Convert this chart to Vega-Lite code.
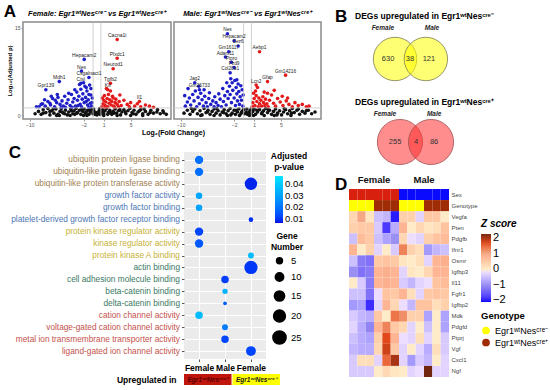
{
"$schema": "https://vega.github.io/schema/vega-lite/v6.json",
"padding": {"left": 3, "top": 3, "right": 0, "bottom": 0},
"config": {"font": "Liberation Sans", "view": {"stroke": null}, "axis": {"labelFont": "Liberation Sans", "titleFont": "Liberation Sans"}, "legend": {"labelFont": "Liberation Sans", "titleFont": "Liberation Sans"}, "title": {"font": "Liberation Sans"}},
"datasets": {
"volF": [
{"x":-9.2,"y":0.3},{"x":-8.7,"y":0.7},{"x":-8.3,"y":0.2},{"x":-8.0,"y":1.0},{"x":-7.6,"y":0.5},{"x":-7.3,"y":1.2},{"x":-7.0,"y":0.1},{"x":-6.7,"y":0.8},{"x":-6.4,"y":0.4},{"x":-6.1,"y":1.1},{"x":-5.8,"y":0.2},{"x":-5.5,"y":0.7},{"x":-5.3,"y":1.2},{"x":-5.0,"y":0.4},{"x":-4.7,"y":0.9},{"x":-4.4,"y":0.1},{"x":-4.2,"y":0.6},{"x":-3.9,"y":1.1},{"x":-3.6,"y":0.3},{"x":-3.4,"y":0.8},{"x":-3.1,"y":1.2},{"x":-2.9,"y":0.5},{"x":-2.6,"y":0.9},{"x":-2.4,"y":0.2},{"x":-2.1,"y":0.7},{"x":-1.9,"y":1.1},{"x":-1.7,"y":0.4},{"x":-1.4,"y":0.9},{"x":-1.2,"y":0.2},{"x":-1.0,"y":0.6},{"x":-0.8,"y":1.0},{"x":-0.6,"y":0.3},{"x":-0.45,"y":0.7},{"x":-0.3,"y":0.2},{"x":-0.15,"y":0.5},{"x":0.0,"y":0.1},{"x":0.15,"y":0.4},{"x":0.3,"y":0.8},{"x":0.45,"y":0.2},{"x":0.6,"y":0.6},{"x":0.8,"y":1.0},{"x":1.0,"y":0.3},{"x":1.2,"y":0.8},{"x":1.4,"y":1.2},{"x":1.7,"y":0.5},{"x":1.9,"y":0.9},{"x":2.2,"y":0.2},{"x":2.4,"y":0.7},{"x":2.7,"y":1.1},{"x":2.9,"y":0.4},{"x":3.2,"y":0.8},{"x":3.5,"y":0.1},{"x":3.7,"y":0.6},{"x":4.0,"y":1.0},{"x":4.3,"y":0.3},{"x":4.6,"y":0.8},{"x":4.9,"y":1.2},{"x":5.2,"y":0.5},{"x":5.5,"y":0.9},{"x":5.8,"y":0.2},{"x":6.1,"y":0.6},{"x":6.5,"y":1.0},{"x":6.8,"y":0.3},{"x":7.2,"y":0.7},{"x":7.6,"y":0.2},{"x":8.0,"y":0.9},{"x":8.4,"y":0.4},{"x":8.9,"y":0.6},{"x":9.4,"y":0.3},{"x":9.8,"y":0.8},{"x":10.3,"y":0.2},{"x":-2.0,"y":0.0},{"x":-4.0,"y":0.0},{"x":-6.0,"y":0.0},{"x":1.0,"y":0.0},{"x":3.0,"y":0.0},{"x":5.0,"y":0.0},{"x":-3.0,"y":0.4},{"x":2.0,"y":0.5},{"x":-5.6,"y":0.0},{"x":-1.5,"y":0.0},{"x":6.8,"y":0.0},{"x":-0.5,"y":1.1},{"x":0.4,"y":1.2},{"x":-8.0,"y":0.4},{"x":-7.0,"y":0.7},{"x":-6.5,"y":1.1},{"x":-5.2,"y":0.6},{"x":-4.8,"y":0.3},{"x":-3.8,"y":0.8},{"x":-3.3,"y":0.2},{"x":-2.3,"y":1.0},{"x":-1.6,"y":0.6},{"x":-1.1,"y":0.9},{"x":0.9,"y":0.5},{"x":1.6,"y":0.2},{"x":2.5,"y":0.4},{"x":3.4,"y":1.0},{"x":4.2,"y":0.6},{"x":5.4,"y":0.3},{"x":6.3,"y":0.8},{"x":7.0,"y":1.1},{"x":7.9,"y":0.5},{"x":9.0,"y":1.0},{"x":9.9,"y":0.5},
{"x":-8.6,"y":1.5},{"x":-8.1,"y":2.0},{"x":-7.7,"y":1.6},{"x":-7.3,"y":2.4},{"x":-6.9,"y":1.8},{"x":-6.6,"y":2.9},{"x":-6.3,"y":1.5},{"x":-6.0,"y":2.2},{"x":-5.8,"y":3.1},{"x":-5.5,"y":1.9},{"x":-5.2,"y":2.5},{"x":-5.0,"y":1.6},{"x":-4.8,"y":3.3},{"x":-4.5,"y":2.1},{"x":-4.3,"y":2.7},{"x":-4.0,"y":1.7},{"x":-3.8,"y":3.6},{"x":-3.6,"y":2.3},{"x":-3.4,"y":2.9},{"x":-3.2,"y":1.6},{"x":-3.0,"y":4.0},{"x":-2.9,"y":2.6},{"x":-2.7,"y":3.3},{"x":-2.5,"y":1.9},{"x":-2.4,"y":4.5},{"x":-2.2,"y":2.8},{"x":-2.1,"y":3.7},{"x":-1.9,"y":2.2},{"x":-1.8,"y":5.0},{"x":-1.7,"y":3.1},{"x":-1.5,"y":4.2},{"x":-1.4,"y":1.8},{"x":-1.3,"y":2.7},{"x":-1.2,"y":3.6},{"x":-1.0,"y":2.1},{"x":-0.9,"y":4.6},{"x":-0.8,"y":1.6},{"x":-0.7,"y":3.0},{"x":-2.6,"y":5.3},{"x":-2.0,"y":5.6},{"x":-1.6,"y":4.8},{"x":-3.3,"y":4.4},{"x":-4.2,"y":3.8},{"x":-6.8,"y":3.3},{"x":-7.8,"y":2.7},{"x":-5.9,"y":3.6},{"x":-1.1,"y":5.2},{"x":-2.3,"y":1.5},{"x":-3.7,"y":1.4},{"x":-4.7,"y":1.4},{"x":-1.2,"y":1.4},{"x":-0.75,"y":2.2},{"x":-0.9,"y":3.5},{"x":-1.6,"y":2.4},{"x":-2.8,"y":1.7},{"x":-5.3,"y":1.4},{"x":-8.3,"y":1.9},{"x":-9.0,"y":1.5},{"x":-7.0,"y":2.1},{"x":-6.2,"y":2.6},
{"x":0.7,"y":1.5},{"x":0.9,"y":2.0},{"x":1.0,"y":2.6},{"x":1.2,"y":1.7},{"x":1.3,"y":2.3},{"x":1.5,"y":2.9},{"x":1.6,"y":1.5},{"x":1.8,"y":2.1},{"x":1.9,"y":2.7},{"x":2.1,"y":1.8},{"x":2.2,"y":2.4},{"x":2.4,"y":3.0},{"x":2.5,"y":1.6},{"x":2.7,"y":2.2},{"x":2.8,"y":2.8},{"x":3.0,"y":1.9},{"x":1.1,"y":3.4},{"x":1.7,"y":3.6},{"x":2.3,"y":3.3},{"x":3.3,"y":2.4},{"x":3.6,"y":1.7},{"x":4.0,"y":2.6},{"x":4.5,"y":1.9},{"x":5.0,"y":2.2},{"x":5.6,"y":1.6},{"x":6.0,"y":2.0},{"x":6.5,"y":1.5},{"x":7.2,"y":1.8},{"x":3.4,"y":3.5},{"x":2.0,"y":4.2},{"x":1.4,"y":4.6},{"x":0.8,"y":3.0},{"x":1.2,"y":1.4},{"x":2.6,"y":1.4},{"x":3.2,"y":1.5},{"x":4.8,"y":1.5},{"x":7.8,"y":1.6},{"x":8.4,"y":1.4},
{"x":3.0,"y":13.0,"n":"Cacna1i"},{"x":-1.9,"y":9.6,"n":"Hepacam2"},{"x":3.0,"y":9.8,"n":"Plxdc1"},{"x":2.4,"y":8.0,"n":"Neurod1"},{"x":-5.6,"y":5.8,"n":"Mdh1"},{"x":-2.3,"y":7.6,"n":"Nes"},{"x":-1.2,"y":6.5,"n":"Csgalnact1"},{"x":-7.6,"y":4.4,"n":"Gpr139"},{"x":2.0,"y":5.5,"n":"Tgfb2"},{"x":1.6,"y":4.4,"n":"Kit"},{"x":-2.4,"y":5.5,"n":"Ctsl"},{"x":6.3,"y":2.4,"n":"Il1"}
],
"volM": [
{"x":-9.5,"y":0.4},{"x":-9.0,"y":0.9},{"x":-8.6,"y":0.2},{"x":-8.2,"y":0.7},{"x":-7.9,"y":1.1},{"x":-7.5,"y":0.3},{"x":-7.1,"y":0.8},{"x":-6.8,"y":0.1},{"x":-6.5,"y":1.2},{"x":-6.2,"y":0.5},{"x":-5.9,"y":0.9},{"x":-5.6,"y":0.2},{"x":-5.3,"y":0.7},{"x":-5.0,"y":1.1},{"x":-4.7,"y":0.4},{"x":-4.4,"y":0.8},{"x":-4.1,"y":0.1},{"x":-3.8,"y":0.6},{"x":-3.5,"y":1.0},{"x":-3.2,"y":0.3},{"x":-2.9,"y":0.8},{"x":-2.6,"y":1.2},{"x":-2.3,"y":0.4},{"x":-2.0,"y":0.9},{"x":-1.8,"y":0.2},{"x":-1.5,"y":0.6},{"x":-1.3,"y":1.1},{"x":-1.0,"y":0.3},{"x":-0.8,"y":0.7},{"x":-0.6,"y":1.0},{"x":-0.4,"y":0.3},{"x":-0.2,"y":0.6},{"x":0.0,"y":0.2},{"x":0.2,"y":0.5},{"x":0.4,"y":0.9},{"x":0.55,"y":0.3},{"x":0.8,"y":0.7},{"x":1.0,"y":1.1},{"x":1.2,"y":0.2},{"x":1.5,"y":0.6},{"x":1.8,"y":1.0},{"x":2.1,"y":0.3},{"x":2.4,"y":0.8},{"x":2.7,"y":1.2},{"x":3.0,"y":0.5},{"x":3.3,"y":0.9},{"x":3.6,"y":0.2},{"x":3.9,"y":0.7},{"x":4.2,"y":1.1},{"x":4.5,"y":0.4},{"x":4.8,"y":0.8},{"x":5.1,"y":0.1},{"x":5.4,"y":0.6},{"x":5.7,"y":1.0},{"x":6.0,"y":0.3},{"x":6.3,"y":0.8},{"x":6.7,"y":1.2},{"x":7.0,"y":0.5},{"x":7.4,"y":0.9},{"x":7.8,"y":0.2},{"x":8.2,"y":0.7},{"x":8.6,"y":0.4},{"x":9.1,"y":0.9},{"x":9.6,"y":0.3},{"x":10.1,"y":0.6},{"x":-7.0,"y":0.0},{"x":-5.0,"y":0.0},{"x":-3.0,"y":0.0},{"x":-1.2,"y":0.0},{"x":0.9,"y":0.0},{"x":2.5,"y":0.0},{"x":4.0,"y":0.0},{"x":6.5,"y":0.0},{"x":-8.4,"y":1.2},{"x":-6.0,"y":0.6},{"x":-4.6,"y":1.2},{"x":-3.6,"y":0.5},{"x":-2.5,"y":0.1},{"x":-1.7,"y":0.9},{"x":-0.9,"y":0.5},{"x":0.6,"y":1.2},{"x":1.4,"y":0.9},{"x":2.2,"y":0.5},{"x":3.1,"y":1.0},{"x":4.4,"y":0.1},{"x":5.5,"y":1.2},{"x":6.6,"y":0.4},{"x":7.6,"y":1.1},{"x":8.8,"y":0.8},{"x":-0.1,"y":1.1},{"x":0.3,"y":0.0},
{"x":-9.3,"y":1.6},{"x":-9.0,"y":2.3},{"x":-8.7,"y":3.0},{"x":-8.5,"y":1.8},{"x":-8.2,"y":3.6},{"x":-8.0,"y":2.5},{"x":-7.8,"y":4.2},{"x":-7.6,"y":1.5},{"x":-7.4,"y":3.1},{"x":-7.2,"y":2.0},{"x":-7.0,"y":3.8},{"x":-6.8,"y":2.7},{"x":-6.6,"y":1.6},{"x":-6.4,"y":3.3},{"x":-6.2,"y":2.2},{"x":-6.0,"y":1.5},{"x":-5.8,"y":2.9},{"x":-5.5,"y":1.9},{"x":-5.2,"y":2.5},{"x":-5.0,"y":1.5},{"x":-4.7,"y":2.2},{"x":-4.4,"y":1.7},{"x":-4.1,"y":2.8},{"x":-3.9,"y":1.5},{"x":-3.6,"y":2.4},{"x":-3.4,"y":3.4},{"x":-3.2,"y":1.8},{"x":-3.0,"y":4.1},{"x":-2.9,"y":2.9},{"x":-2.7,"y":5.0},{"x":-2.6,"y":3.6},{"x":-2.4,"y":2.2},{"x":-2.3,"y":5.6},{"x":-2.2,"y":4.3},{"x":-2.0,"y":3.0},{"x":-1.9,"y":6.0},{"x":-1.8,"y":1.7},{"x":-1.7,"y":4.8},{"x":-1.6,"y":3.7},{"x":-1.5,"y":2.5},{"x":-1.4,"y":5.4},{"x":-1.3,"y":4.1},{"x":-1.2,"y":1.9},{"x":-1.1,"y":3.2},{"x":-1.0,"y":5.1},{"x":-0.9,"y":2.6},{"x":-0.8,"y":4.4},{"x":-0.7,"y":1.6},{"x":-0.65,"y":3.5},{"x":-2.5,"y":6.3},{"x":-1.6,"y":6.1},{"x":-3.1,"y":5.6},{"x":-3.7,"y":4.6},{"x":-4.3,"y":3.7},{"x":-8.9,"y":4.6},{"x":-7.3,"y":5.0},{"x":-6.5,"y":4.4},{"x":-9.4,"y":3.4},{"x":-5.7,"y":3.9},{"x":-4.9,"y":3.2},
{"x":0.7,"y":1.5},{"x":0.8,"y":2.2},{"x":1.0,"y":2.9},{"x":1.1,"y":1.7},{"x":1.3,"y":3.4},{"x":1.4,"y":2.4},{"x":1.6,"y":1.5},{"x":1.7,"y":3.0},{"x":1.8,"y":2.0},{"x":2.0,"y":2.6},{"x":2.1,"y":1.6},{"x":2.3,"y":3.2},{"x":2.4,"y":2.2},{"x":2.6,"y":1.7},{"x":2.7,"y":2.8},{"x":2.9,"y":2.0},{"x":3.1,"y":1.5},{"x":3.3,"y":2.6},{"x":3.6,"y":3.5},{"x":3.9,"y":2.1},{"x":4.2,"y":1.6},{"x":4.5,"y":2.9},{"x":4.9,"y":2.3},{"x":5.3,"y":1.7},{"x":5.8,"y":2.5},{"x":6.2,"y":1.9},{"x":6.7,"y":1.5},{"x":7.1,"y":2.2},{"x":7.6,"y":1.7},{"x":8.2,"y":1.9},{"x":8.8,"y":1.5},{"x":1.2,"y":4.2},{"x":2.5,"y":4.0},{"x":1.5,"y":4.8},{"x":0.9,"y":3.8},{"x":3.0,"y":3.8},{"x":4.0,"y":4.3},{"x":5.2,"y":3.3},{"x":6.0,"y":3.0},{"x":9.2,"y":1.6},
{"x":-3.0,"y":14.0,"n":"Nes"},{"x":-2.0,"y":12.8,"n":"Hepacam2"},{"x":-1.4,"y":11.9,"n":"Sez6"},{"x":-2.8,"y":10.9,"n":"Gm16117"},{"x":-3.3,"y":10.0,"n":"Adam11"},{"x":-2.4,"y":9.1,"n":"Ptpro"},{"x":-2.0,"y":8.2,"n":"Fzd9"},{"x":-2.6,"y":7.3,"n":"Col20a1"},{"x":1.8,"y":10.9,"n":"Aebp1"},{"x":5.7,"y":6.9,"n":"Gm14216"},{"x":3.0,"y":5.8,"n":"Gfap"},{"x":1.3,"y":5.2,"n":"Lcn2"},{"x":-7.9,"y":5.6,"n":"Jag2"},{"x":-7.2,"y":4.4,"n":"Gm26733"}
],
"go": [
{"t":"ubiquitin protein ligase binding","g":"F+","p":0.019,"n":10},
{"t":"ubiquitin-like protein ligase binding","g":"F+","p":0.019,"n":10},
{"t":"ubiquitin-like protein transferase activity","g":"F-","p":0.008,"n":22},
{"t":"growth factor activity","g":"F+","p":0.031,"n":6},
{"t":"growth factor binding","g":"F+","p":0.03,"n":6},
{"t":"platelet-derived growth factor receptor binding","g":"F-","p":0.009,"n":3},
{"t":"protein kinase regulator activity","g":"F+","p":0.012,"n":10},
{"t":"kinase regulator activity","g":"F+","p":0.015,"n":10},
{"t":"protein kinase A binding","g":"F-","p":0.036,"n":5},
{"t":"actin binding","g":"F-","p":0.01,"n":25},
{"t":"cell adhesion molecule binding","g":"M+","p":0.011,"n":8},
{"t":"beta-catenin binding","g":"M+","p":0.034,"n":4},
{"t":"delta-catenin binding","g":"M+","p":0.016,"n":2},
{"t":"cation channel activity","g":"F+","p":0.036,"n":8},
{"t":"voltage-gated cation channel activity","g":"M+","p":0.022,"n":5},
{"t":"metal ion transmembrane transporter activity","g":"M+","p":0.012,"n":8},
{"t":"ligand-gated ion channel activity","g":"F-","p":0.012,"n":14}
],
"strip": [
{"gt":"Cre+","row":"Upregulated in","lab":"Egr1ʷᵗNesᶜʳᵉ⁺"},
{"gt":"Cre-","row":"Upregulated in","lab":"Egr1ʷᵗNesᶜʳᵉ⁻"}
],
"vennUpSets": [{"set":"Female","vx":-0.49,"vy":0},{"set":"Male","vx":0.52,"vy":0}],
"vennUpLabels": [{"set":"Female","vx":-0.89,"vy":1},{"set":"Male","vx":0.72,"vy":1}],
"vennUpCounts": [{"region":"Female only","vx":-0.72,"vy":0,"count":630},{"region":"Both","vx":0.0,"vy":0,"count":38},{"region":"Male only","vx":0.62,"vy":0,"count":121}],
"vennDownSets": [{"set":"Female","vx":-0.33,"vy":0},{"set":"Male","vx":0.69,"vy":0}],
"vennDownLabels": [{"set":"Female","vx":-0.82,"vy":1},{"set":"Male","vx":0.79,"vy":1}],
"vennDownCounts": [{"region":"Female only","vx":-0.49,"vy":0,"count":255},{"region":"Both","vx":0.2,"vy":0,"count":4},{"region":"Male only","vx":0.79,"vy":0,"count":86}],
"annot": [
{"g":"Sex","c":"F1","a":"Female"},{"g":"Sex","c":"F2","a":"Female"},{"g":"Sex","c":"F3","a":"Female"},{"g":"Sex","c":"F4","a":"Female"},{"g":"Sex","c":"F5","a":"Female"},{"g":"Sex","c":"F6","a":"Female"},
{"g":"Sex","c":"M1","a":"Male"},{"g":"Sex","c":"M2","a":"Male"},{"g":"Sex","c":"M3","a":"Male"},{"g":"Sex","c":"M4","a":"Male"},{"g":"Sex","c":"M5","a":"Male"},{"g":"Sex","c":"M6","a":"Male"},
{"g":"Genotype","c":"F1","a":"Egr1ʷᵗNesᶜʳᵉ⁻"},{"g":"Genotype","c":"F2","a":"Egr1ʷᵗNesᶜʳᵉ⁻"},{"g":"Genotype","c":"F3","a":"Egr1ʷᵗNesᶜʳᵉ⁻"},{"g":"Genotype","c":"F4","a":"Egr1ʷᵗNesᶜʳᵉ⁺"},{"g":"Genotype","c":"F5","a":"Egr1ʷᵗNesᶜʳᵉ⁺"},{"g":"Genotype","c":"F6","a":"Egr1ʷᵗNesᶜʳᵉ⁺"},
{"g":"Genotype","c":"M1","a":"Egr1ʷᵗNesᶜʳᵉ⁻"},{"g":"Genotype","c":"M2","a":"Egr1ʷᵗNesᶜʳᵉ⁻"},{"g":"Genotype","c":"M3","a":"Egr1ʷᵗNesᶜʳᵉ⁻"},{"g":"Genotype","c":"M4","a":"Egr1ʷᵗNesᶜʳᵉ⁺"},{"g":"Genotype","c":"M5","a":"Egr1ʷᵗNesᶜʳᵉ⁺"},{"g":"Genotype","c":"M6","a":"Egr1ʷᵗNesᶜʳᵉ⁺"}
],
"heat": [
{"g":"Vegfa","c":"F1","z":0.3},{"g":"Vegfa","c":"F2","z":1.0},{"g":"Vegfa","c":"F3","z":0.1},{"g":"Vegfa","c":"F4","z":-0.5},{"g":"Vegfa","c":"F5","z":-0.6},{"g":"Vegfa","c":"F6","z":-2.0},{"g":"Vegfa","c":"M1","z":0.4},{"g":"Vegfa","c":"M2","z":0.4},{"g":"Vegfa","c":"M3","z":-0.3},{"g":"Vegfa","c":"M4","z":0.5},{"g":"Vegfa","c":"M5","z":0.5},{"g":"Vegfa","c":"M6","z":0.0},
{"g":"Pten","c":"F1","z":0.4},{"g":"Pten","c":"F2","z":0.5},{"g":"Pten","c":"F3","z":0.5},{"g":"Pten","c":"F4","z":-0.4},{"g":"Pten","c":"F5","z":-1.8},{"g":"Pten","c":"F6","z":-0.7},{"g":"Pten","c":"M1","z":0.8},{"g":"Pten","c":"M2","z":0.0},{"g":"Pten","c":"M3","z":0.3},{"g":"Pten","c":"M4","z":0.1},{"g":"Pten","c":"M5","z":0.2},{"g":"Pten","c":"M6","z":0.6},
{"g":"Pdgfb","c":"F1","z":-0.5},{"g":"Pdgfb","c":"F2","z":0.7},{"g":"Pdgfb","c":"F3","z":0.5},{"g":"Pdgfb","c":"F4","z":-0.5},{"g":"Pdgfb","c":"F5","z":-0.8},{"g":"Pdgfb","c":"F6","z":-1.0},{"g":"Pdgfb","c":"M1","z":0.3},{"g":"Pdgfb","c":"M2","z":-0.2},{"g":"Pdgfb","c":"M3","z":-0.3},{"g":"Pdgfb","c":"M4","z":0.4},{"g":"Pdgfb","c":"M5","z":0.6},{"g":"Pdgfb","c":"M6","z":0.7},
{"g":"Ifnr1","c":"F1","z":0.8},{"g":"Ifnr1","c":"F2","z":0.0},{"g":"Ifnr1","c":"F3","z":0.4},{"g":"Ifnr1","c":"F4","z":-0.3},{"g":"Ifnr1","c":"F5","z":0.0},{"g":"Ifnr1","c":"F6","z":-0.4},{"g":"Ifnr1","c":"M1","z":1.3},{"g":"Ifnr1","c":"M2","z":0.4},{"g":"Ifnr1","c":"M3","z":0.2},{"g":"Ifnr1","c":"M4","z":-0.9},{"g":"Ifnr1","c":"M5","z":-0.6},{"g":"Ifnr1","c":"M6","z":-0.5},
{"g":"Osmr","c":"F1","z":-0.5},{"g":"Osmr","c":"F2","z":-1.2},{"g":"Osmr","c":"F3","z":-1.3},{"g":"Osmr","c":"F4","z":0.5},{"g":"Osmr","c":"F5","z":0.6},{"g":"Osmr","c":"F6","z":0.5},{"g":"Osmr","c":"M1","z":0.1},{"g":"Osmr","c":"M2","z":0.0},{"g":"Osmr","c":"M3","z":0.2},{"g":"Osmr","c":"M4","z":-0.3},{"g":"Osmr","c":"M5","z":0.8},{"g":"Osmr","c":"M6","z":0.9},
{"g":"Igfbp3","c":"F1","z":-1.0},{"g":"Igfbp3","c":"F2","z":-1.3},{"g":"Igfbp3","c":"F3","z":-1.2},{"g":"Igfbp3","c":"F4","z":0.8},{"g":"Igfbp3","c":"F5","z":0.9},{"g":"Igfbp3","c":"F6","z":0.8},{"g":"Igfbp3","c":"M1","z":-0.3},{"g":"Igfbp3","c":"M2","z":0.1},{"g":"Igfbp3","c":"M3","z":0.0},{"g":"Igfbp3","c":"M4","z":0.3},{"g":"Igfbp3","c":"M5","z":0.8},{"g":"Igfbp3","c":"M6","z":0.8},
{"g":"Il11","c":"F1","z":0.0},{"g":"Il11","c":"F2","z":-0.4},{"g":"Il11","c":"F3","z":-1.2},{"g":"Il11","c":"F4","z":0.8},{"g":"Il11","c":"F5","z":0.9},{"g":"Il11","c":"F6","z":0.8},{"g":"Il11","c":"M1","z":-0.4},{"g":"Il11","c":"M2","z":-0.6},{"g":"Il11","c":"M3","z":-0.3},{"g":"Il11","c":"M4","z":-0.2},{"g":"Il11","c":"M5","z":0.6},{"g":"Il11","c":"M6","z":0.7},
{"g":"Fgfr1","c":"F1","z":-0.5},{"g":"Fgfr1","c":"F2","z":-0.5},{"g":"Fgfr1","c":"F3","z":-1.3},{"g":"Fgfr1","c":"F4","z":-0.2},{"g":"Fgfr1","c":"F5","z":0.6},{"g":"Fgfr1","c":"F6","z":0.5},{"g":"Fgfr1","c":"M1","z":0.8},{"g":"Fgfr1","c":"M2","z":0.2},{"g":"Fgfr1","c":"M3","z":-0.3},{"g":"Fgfr1","c":"M4","z":0.5},{"g":"Fgfr1","c":"M5","z":0.6},{"g":"Fgfr1","c":"M6","z":0.5},
{"g":"Igfbp2","c":"F1","z":-0.9},{"g":"Igfbp2","c":"F2","z":-0.8},{"g":"Igfbp2","c":"F3","z":-1.9},{"g":"Igfbp2","c":"F4","z":-0.3},{"g":"Igfbp2","c":"F5","z":0.8},{"g":"Igfbp2","c":"F6","z":0.3},{"g":"Igfbp2","c":"M1","z":-0.2},{"g":"Igfbp2","c":"M2","z":-0.6},{"g":"Igfbp2","c":"M3","z":0.6},{"g":"Igfbp2","c":"M4","z":0.6},{"g":"Igfbp2","c":"M5","z":0.2},{"g":"Igfbp2","c":"M6","z":0.4},
{"g":"Mdk","c":"F1","z":-0.4},{"g":"Mdk","c":"F2","z":-0.6},{"g":"Mdk","c":"F3","z":-0.7},{"g":"Mdk","c":"F4","z":0.5},{"g":"Mdk","c":"F5","z":0.0},{"g":"Mdk","c":"F6","z":1.4},{"g":"Mdk","c":"M1","z":1.2},{"g":"Mdk","c":"M2","z":0.4},{"g":"Mdk","c":"M3","z":0.4},{"g":"Mdk","c":"M4","z":-0.8},{"g":"Mdk","c":"M5","z":0.0},{"g":"Mdk","c":"M6","z":-0.8},
{"g":"Pdgfd","c":"F1","z":-0.3},{"g":"Pdgfd","c":"F2","z":-0.7},{"g":"Pdgfd","c":"F3","z":-1.1},{"g":"Pdgfd","c":"F4","z":0.8},{"g":"Pdgfd","c":"F5","z":1.3},{"g":"Pdgfd","c":"F6","z":0.5},{"g":"Pdgfd","c":"M1","z":0.3},{"g":"Pdgfd","c":"M2","z":-0.3},{"g":"Pdgfd","c":"M3","z":0.0},{"g":"Pdgfd","c":"M4","z":-0.5},{"g":"Pdgfd","c":"M5","z":0.0},{"g":"Pdgfd","c":"M6","z":-0.8},
{"g":"Ptprj","c":"F1","z":-0.5},{"g":"Ptprj","c":"F2","z":-0.7},{"g":"Ptprj","c":"F3","z":-0.8},{"g":"Ptprj","c":"F4","z":0.4},{"g":"Ptprj","c":"F5","z":1.7},{"g":"Ptprj","c":"F6","z":0.8},{"g":"Ptprj","c":"M1","z":-0.2},{"g":"Ptprj","c":"M2","z":-0.3},{"g":"Ptprj","c":"M3","z":0.2},{"g":"Ptprj","c":"M4","z":-0.3},{"g":"Ptprj","c":"M5","z":0.0},{"g":"Ptprj","c":"M6","z":-0.4},
{"g":"Vgf","c":"F1","z":-0.6},{"g":"Vgf","c":"F2","z":-0.7},{"g":"Vgf","c":"F3","z":-0.7},{"g":"Vgf","c":"F4","z":0.3},{"g":"Vgf","c":"F5","z":1.8},{"g":"Vgf","c":"F6","z":0.5},{"g":"Vgf","c":"M1","z":-0.3},{"g":"Vgf","c":"M2","z":0.0},{"g":"Vgf","c":"M3","z":-0.3},{"g":"Vgf","c":"M4","z":-0.7},{"g":"Vgf","c":"M5","z":0.2},{"g":"Vgf","c":"M6","z":-0.4},
{"g":"Cxcl1","c":"F1","z":-0.4},{"g":"Cxcl1","c":"F2","z":0.2},{"g":"Cxcl1","c":"F3","z":0.2},{"g":"Cxcl1","c":"F4","z":-0.3},{"g":"Cxcl1","c":"F5","z":1.5},{"g":"Cxcl1","c":"F6","z":2.0},{"g":"Cxcl1","c":"M1","z":-0.3},{"g":"Cxcl1","c":"M2","z":-0.9},{"g":"Cxcl1","c":"M3","z":-0.4},{"g":"Cxcl1","c":"M4","z":-0.6},{"g":"Cxcl1","c":"M5","z":0.0},{"g":"Cxcl1","c":"M6","z":-0.3},
{"g":"Ngf","c":"F1","z":-0.4},{"g":"Ngf","c":"F2","z":-0.4},{"g":"Ngf","c":"F3","z":-0.4},{"g":"Ngf","c":"F4","z":0.0},{"g":"Ngf","c":"F5","z":0.3},{"g":"Ngf","c":"F6","z":0.1},{"g":"Ngf","c":"M1","z":0.0},{"g":"Ngf","c":"M2","z":-0.3},{"g":"Ngf","c":"M3","z":-0.2},{"g":"Ngf","c":"M4","z":2.3},{"g":"Ngf","c":"M5","z":-0.3},{"g":"Ngf","c":"M6","z":-0.3}
]
},
"spacing": 12,
"hconcat": [
{
"spacing": 8,
"vconcat": [
{
"title": {"text": "A", "anchor": "start", "frame": "bounds", "fontSize": 17, "fontWeight": "bold", "offset": 0, "dy": 12, "dx": -2},
"bounds": "flush",
"spacing": 3,
"hconcat": [
{
"width": 148, "height": 97,
"title": {"text": "Female: Egr1ʷᵗNesᶜʳᵉ⁻ vs Egr1ʷᵗNesᶜʳᵉ⁺", "fontSize": 7.5, "fontWeight": "bold", "fontStyle": "italic", "offset": 4},
"view": {"stroke": "#8a8a8a", "strokeWidth": 1.5},
"layer": [
{"data": {"name": "volF"}, "mark": {"type": "point", "filled": true, "size": 13, "opacity": 1},
 "encoding": {
  "x": {"field": "x", "type": "quantitative", "scale": {"domain": [-11, 11], "nice": false}, "axis": {"values": [-10, -5, -2, -1, 1, 2, 5, 10], "title": "Log₂(Fold Change)", "titleFontSize": 7, "titleFontWeight": "bold", "titleX": 150, "titleY": 9, "titleAlign": "center", "titleBaseline": "top", "labelFontSize": 5, "labelColor": "#555", "tickSize": 2, "tickColor": "#999", "domain": false, "grid": false, "labelPadding": 1, "labelOverlap": false, "labelFlush": false}},
  "y": {"field": "y", "type": "quantitative", "scale": {"domain": [-0.6, 16], "nice": false}, "axis": {"values": [0, 5, 10, 15], "title": "Log₁₀(Adjusted p)", "titleFontSize": 6, "titleFontWeight": "bold", "labelFontSize": 5, "labelColor": "#555", "tickSize": 2, "tickColor": "#999", "domain": false, "grid": false, "labelPadding": 1, "titlePadding": 2}},
  "color": {"condition": [{"test": "datum.y > 1.3 && datum.x < -0.58", "value": "#1f1fc8"}, {"test": "datum.y > 1.3 && datum.x > 0.58", "value": "#e31a1a"}], "value": "#111111"}
 }},
{"data": {"values": [{}]}, "mark": {"type": "rule", "color": "#c4c4c4", "strokeWidth": 0.8}, "encoding": {"x": {"datum": -0.58, "type": "quantitative"}}},
{"data": {"values": [{}]}, "mark": {"type": "rule", "color": "#c4c4c4", "strokeWidth": 0.8}, "encoding": {"x": {"datum": 0.58, "type": "quantitative"}}},
{"data": {"values": [{}]}, "mark": {"type": "rule", "color": "#c4c4c4", "strokeWidth": 0.8}, "encoding": {"y": {"datum": 1.3, "type": "quantitative"}}},
{"data": {"name": "volF"}, "transform": [{"filter": "isValid(datum.n)"}], "mark": {"type": "text", "fontSize": 5, "baseline": "bottom", "dy": -1.5, "color": "#222"},
 "encoding": {"x": {"field": "x", "type": "quantitative"}, "y": {"field": "y", "type": "quantitative"}, "text": {"field": "n"}}}
]
},
{
"width": 147, "height": 97,
"title": {"text": "Male: Egr1ʷᵗNesᶜʳᵉ⁻ vs Egr1ʷᵗNesᶜʳᵉ⁺", "fontSize": 7.5, "fontWeight": "bold", "fontStyle": "italic", "offset": 4},
"view": {"stroke": "#8a8a8a", "strokeWidth": 1.5},
"layer": [
{"data": {"name": "volM"}, "mark": {"type": "point", "filled": true, "size": 13, "opacity": 1},
 "encoding": {
  "x": {"field": "x", "type": "quantitative", "scale": {"domain": [-11, 11], "nice": false}, "axis": {"values": [-10, -5, -2, -1, 1, 2, 5, 10], "title": null, "labelFontSize": 5, "labelColor": "#555", "tickSize": 2, "tickColor": "#999", "domain": false, "grid": false, "labelPadding": 1, "labelOverlap": false, "labelFlush": false}},
  "y": {"field": "y", "type": "quantitative", "scale": {"domain": [-0.6, 16], "nice": false}, "axis": {"values": [0, 5, 10, 15], "title": null, "labels": false, "ticks": false, "domain": false, "grid": false}},
  "color": {"condition": [{"test": "datum.y > 1.3 && datum.x < -0.58", "value": "#1f1fc8"}, {"test": "datum.y > 1.3 && datum.x > 0.58", "value": "#e31a1a"}], "value": "#111111"}
 }},
{"data": {"values": [{}]}, "mark": {"type": "rule", "color": "#c4c4c4", "strokeWidth": 0.8}, "encoding": {"x": {"datum": -0.58, "type": "quantitative"}}},
{"data": {"values": [{}]}, "mark": {"type": "rule", "color": "#c4c4c4", "strokeWidth": 0.8}, "encoding": {"x": {"datum": 0.58, "type": "quantitative"}}},
{"data": {"values": [{}]}, "mark": {"type": "rule", "color": "#c4c4c4", "strokeWidth": 0.8}, "encoding": {"y": {"datum": 1.3, "type": "quantitative"}}},
{"data": {"name": "volM"}, "transform": [{"filter": "isValid(datum.n)"}], "mark": {"type": "text", "fontSize": 4.8, "baseline": "bottom", "dy": -1.5, "color": "#222"},
 "encoding": {"x": {"field": "x", "type": "quantitative"}, "y": {"field": "y", "type": "quantitative"}, "text": {"field": "n"}}}
]
}
]
},
{
"title": {"text": "C", "anchor": "start", "frame": "bounds", "fontSize": 17, "fontWeight": "bold", "offset": 0, "dy": 10, "dx": -2},
"spacing": -14,
"hconcat": [
{"width": 1, "height": 1, "data": {"values": []}, "mark": "point"},
{
"spacing": 2,
"resolve": {"scale": {"color": "independent", "x": "independent", "y": "independent", "size": "independent"}, "legend": {"color": "independent", "size": "independent"}},
"vconcat": [
{
"width": 82, "height": 207,
"view": {"fill": "#ebebeb", "stroke": null},
"data": {"name": "go"},
"mark": {"type": "point", "filled": true, "opacity": 1},
"encoding": {
 "y": {"field": "t", "type": "nominal", "sort": null, "scale": {"type": "point", "padding": 0.66},
  "axis": {"title": null, "labelFontSize": 8.3, "labelLimit": 300, "tickSize": 2.5, "tickColor": "#555", "domain": false, "grid": true, "gridColor": "#ffffff", "gridWidth": 1, "labelPadding": 2,
   "labelColor": {"condition": [
     {"test": "indexof(datum.value, 'ubiquitin') >= 0", "value": "#9f7f52"},
     {"test": "indexof(datum.value, 'growth factor') >= 0", "value": "#4d77b5"},
     {"test": "indexof(datum.value, 'kinase') >= 0", "value": "#c7b236"},
     {"test": "indexof(datum.value, 'channel') >= 0 || indexof(datum.value, 'transporter') >= 0", "value": "#c4524c"}
   ], "value": "#3b7a63"}}},
 "x": {"field": "g", "type": "nominal", "scale": {"type": "point", "domain": ["F+", "M+", "F-"], "padding": 0.58},
  "axis": {"title": null, "labelAngle": 0, "labelExpr": "datum.value == 'M+' ? 'Male' : 'Female'", "labelFontSize": 8.5, "labelFontWeight": "bold", "labelColor": "#000", "tickSize": 2.5, "tickColor": "#555", "domain": false, "grid": true, "gridColor": "#ffffff", "gridWidth": 1, "labelPadding": 2}},
 "color": {"field": "p", "type": "quantitative", "scale": {"domain": [0.0065, 0.047], "range": ["#0a0ae6", "#1ee6ff"]},
  "legend": {"title": ["Adjusted", "p-value"], "titleFontSize": 8.5, "titleFontWeight": "bold", "titleAlign": "center", "titleAnchor": "middle", "gradientLength": 47, "gradientThickness": 8, "labelFontSize": 9.5, "values": [0.01, 0.02, 0.03, 0.04], "offset": 5}},
 "size": {"field": "n", "type": "quantitative", "scale": {"domain": [0, 25], "range": [0, 175]},
  "legend": {"title": ["Gene", "Number"], "titleFontSize": 8.5, "titleFontWeight": "bold", "titleAlign": "center", "titleAnchor": "middle", "values": [5, 10, 15, 20, 25], "symbolFillColor": "#000", "symbolStrokeColor": "#000", "symbolType": "circle", "labelFontSize": 9.5, "offset": 5}}
}
},
{
"width": 96, "height": 11,
"data": {"name": "strip"},
"encoding": {
 "x": {"field": "gt", "type": "nominal", "scale": {"domain": ["Cre+", "Cre-"], "paddingInner": 0.02, "paddingOuter": 0}, "axis": null},
 "y": {"field": "row", "type": "nominal", "axis": {"title": null, "domain": false, "ticks": false, "labelFontSize": 8.5, "labelFontWeight": "bold", "labelColor": "#000", "labelPadding": 8}}
},
"layer": [
 {"mark": {"type": "rect"}, "encoding": {"color": {"field": "gt", "type": "nominal", "scale": {"domain": ["Cre+", "Cre-"], "range": ["#c0140c", "#ffff00"]}, "legend": null}}},
 {"mark": {"type": "text", "fontSize": 6.5, "fontStyle": "italic", "fontWeight": "bold"}, "encoding": {"text": {"field": "lab"}, "color": {"condition": {"test": "datum.gt == 'Cre+'", "value": "#5a0000"}, "value": "#222"}}}
]
}
]
}
]
}
]
},
{
"title": {"text": "B", "anchor": "start", "frame": "bounds", "fontSize": 17, "fontWeight": "bold", "offset": 0, "dy": 14},
"spacing": 7,
"resolve": {"scale": {"x": "independent", "y": "independent", "color": "independent", "fill": "independent"}},
"vconcat": [
{
"spacing": 14,
"resolve": {"scale": {"x": "independent", "y": "independent"}},
"vconcat": [
{
"width": 122, "height": 43,
"title": {"text": "DEGs upregulated in Egr1ʷᵗNesᶜʳᵉ⁻", "anchor": "start", "frame": "group", "fontSize": 8.5, "fontWeight": "bold", "offset": 2, "dx": 6},
"encoding": {
 "x": {"field": "vx", "type": "quantitative", "scale": {"domain": [-2, 2], "nice": false, "zero": false}, "axis": null},
 "y": {"field": "vy", "type": "quantitative", "scale": {"domain": [-0.194, 1.194], "nice": false, "zero": false}, "axis": null}
},
"layer": [
 {"data": {"name": "vennUpSets"}, "mark": {"type": "point", "shape": "circle", "filled": true, "size": 1885, "color": "#ffff00", "fillOpacity": 0.55, "stroke": "#7c7c50", "strokeWidth": 0.8, "strokeOpacity": 1}},
 {"data": {"name": "vennUpCounts"}, "mark": {"type": "text", "fontSize": 7.5, "color": "#333"}, "encoding": {"text": {"field": "count"}}},
 {"data": {"name": "vennUpLabels"}, "mark": {"type": "text", "fontSize": 6.5, "fontStyle": "italic", "fontWeight": "bold", "color": "#222"}, "encoding": {"text": {"field": "set"}}}
]
},
{
"width": 122, "height": 40,
"title": {"text": "DEGs upregulated in Egr1ʷᵗNesᶜʳᵉ⁺", "anchor": "start", "frame": "group", "fontSize": 8.5, "fontWeight": "bold", "offset": 2, "dx": 6},
"encoding": {
 "x": {"field": "vx", "type": "quantitative", "scale": {"domain": [-2, 2], "nice": false, "zero": false}, "axis": null},
 "y": {"field": "vy", "type": "quantitative", "scale": {"domain": [-0.214, 1.214], "nice": false, "zero": false}, "axis": null}
},
"layer": [
 {"data": {"name": "vennDownSets"}, "mark": {"type": "point", "shape": "circle", "filled": true, "size": 2040, "color": "#ff3030", "fillOpacity": 0.55, "stroke": "#a05050", "strokeWidth": 0.8, "strokeOpacity": 1}},
 {"data": {"name": "vennDownCounts"}, "mark": {"type": "text", "fontSize": 7.5, "color": "#333"}, "encoding": {"text": {"field": "count"}}},
 {"data": {"name": "vennDownLabels"}, "mark": {"type": "text", "fontSize": 6.5, "fontStyle": "italic", "fontWeight": "bold", "color": "#222"}, "encoding": {"text": {"field": "set"}}}
]
}
]
},
{
"width": 100, "height": 188,
"title": {"text": "D", "anchor": "start", "frame": "group", "fontSize": 17, "fontWeight": "bold", "offset": 0, "dx": -14, "dy": 20},
"encoding": {
 "x": {"field": "c", "type": "nominal", "scale": {"domain": ["F1", "F2", "F3", "F4", "F5", "F6", "M1", "M2", "M3", "M4", "M5", "M6"], "paddingInner": 0, "paddingOuter": 0},
  "axis": {"orient": "top", "title": null, "ticks": false, "domain": false, "labelAngle": 0, "labelOverlap": false, "labelBound": false, "labelFlush": false, "labelExpr": "datum.value == 'F3' ? 'Female' : datum.value == 'M3' ? 'Male' : ''", "labelOffset": 4.2, "labelFontSize": 9.5, "labelFontWeight": "bold", "labelColor": "#111", "labelPadding": 5}},
 "y": {"field": "g", "type": "nominal", "scale": {"domain": ["Sex", "Genotype", "Vegfa", "Pten", "Pdgfb", "Ifnr1", "Osmr", "Igfbp3", "Il11", "Fgfr1", "Igfbp2", "Mdk", "Pdgfd", "Ptprj", "Vgf", "Cxcl1", "Ngf"], "paddingInner": 0, "paddingOuter": 0},
  "axis": {"orient": "right", "title": null, "ticks": false, "domain": false, "labelFontSize": 6, "labelColor": "#444", "labelPadding": 2}}
},
"layer": [
 {"data": {"name": "heat"}, "mark": {"type": "rect"},
  "encoding": {"color": {"field": "z", "type": "quantitative", "scale": {"domain": [-2.1, -1, 0, 1, 1.7, 2.25], "range": ["#0000ff", "#9a8ff2", "#ffffff", "#f4a886", "#e2481c", "#7a2810"]},
   "legend": {"title": "Z score", "titleFontSize": 10, "titleFontStyle": "italic", "titleFontWeight": "bold", "gradientLength": 68, "gradientThickness": 10, "labelFontSize": 11, "values": [-2, -1, 0, 1, 2], "orient": "none", "legendX": 132, "legendY": 30, "direction": "vertical"}}}},
 {"data": {"name": "annot"}, "mark": {"type": "rect"},
  "encoding": {"fill": {"field": "a", "type": "nominal", "scale": {"domain": ["Female", "Male", "Egr1ʷᵗNesᶜʳᵉ⁻", "Egr1ʷᵗNesᶜʳᵉ⁺"], "range": ["#d8200e", "#0a0aff", "#ffff00", "#a02c05"]},
   "legend": {"title": "Genotype", "values": ["Egr1ʷᵗNesᶜʳᵉ⁻", "Egr1ʷᵗNesᶜʳᵉ⁺"], "orient": "none", "legendX": 132, "legendY": 122, "symbolType": "circle", "symbolSize": 60, "labelFontSize": 9, "titleFontSize": 9.5, "titleFontWeight": "bold"}}}}
]
}
]
}
]
}
